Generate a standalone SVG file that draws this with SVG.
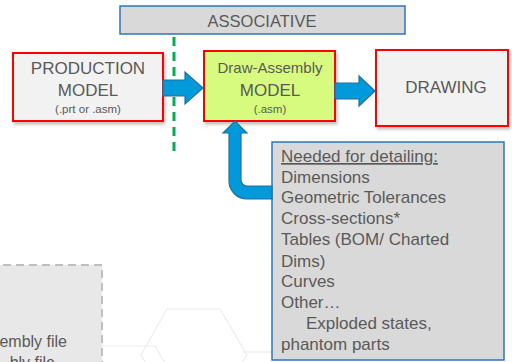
<svg xmlns="http://www.w3.org/2000/svg" width="512" height="362" viewBox="0 0 512 362">
<defs>
<style>
.t{font-family:"Liberation Sans",Arial,sans-serif;fill:#595959}
.red{stroke:#ff0000;stroke-width:2}
.blu{fill:#d9d9d9;stroke:#2e75b6;stroke-width:1.5}
.arr{fill:#0099d9;stroke:#23709f;stroke-width:1.2;stroke-linejoin:miter}
.hex{fill:none;stroke:#ececec;stroke-width:1.2}
</style>
<filter id="sh" x="-10%" y="-10%" width="130%" height="140%">
<feDropShadow dx="1.5" dy="2.5" stdDeviation="1.5" flood-color="#000" flood-opacity="0.25"/>
</filter>
</defs>
<rect width="512" height="362" fill="#ffffff"/>
<g id="background">
<polygon class="hex" points="167,309 220,309 247,355 220,401 167,401 141,355"/>
<polyline class="hex" points="102,346 155,346 170,372"/>
<polyline class="hex" points="243,352 272,352"/>
</g>
<g id="side-box">
<rect x="-10" y="265" width="112" height="120" fill="#e8e8e8" stroke="#bfbfbf" stroke-width="2" stroke-dasharray="8,5"/>
<text class="t" x="67" y="347" font-size="16" text-anchor="end">embly file</text>
<text class="t" x="55" y="368" font-size="16" text-anchor="end">bly file</text>
</g>
<g id="associative">
<rect class="blu" x="120" y="6" width="285" height="28"/>
<text class="t" x="262" y="27" font-size="16.5" text-anchor="middle">ASSOCIATIVE</text>
</g>
<g id="production">
<rect class="red" x="13" y="53" width="150" height="68" fill="#f2f2f2" filter="url(#sh)"/>
<text class="t" x="88" y="74" font-size="17" text-anchor="middle">PRODUCTION</text>
<text class="t" x="88" y="96" font-size="17" text-anchor="middle">MODEL</text>
<text class="t" x="88" y="113" font-size="11.5" text-anchor="middle">(.prt or .asm)</text>
</g>
<g id="draw-assembly">
<rect class="red" x="204" y="51" width="131" height="70" fill="#d6fb7e" filter="url(#sh)"/>
<text class="t" x="270" y="73" font-size="15" text-anchor="middle">Draw-Assembly</text>
<text class="t" x="270" y="96" font-size="17" text-anchor="middle">MODEL</text>
<text class="t" x="270" y="113" font-size="11.5" text-anchor="middle">(.asm)</text>
</g>
<g id="drawing">
<rect class="red" x="376" y="50" width="132" height="76" fill="#f2f2f2" filter="url(#sh)"/>
<text class="t" x="446" y="93" font-size="17" text-anchor="middle">DRAWING</text>
</g>
<g id="needed">
<rect class="blu" x="272" y="142" width="232" height="218"/>
<text class="t" font-size="17">
<tspan x="281" y="162" text-decoration="underline">Needed for detailing:</tspan>
<tspan x="281" y="183">Dimensions</tspan>
<tspan x="281" y="203">Geometric Tolerances</tspan>
<tspan x="281" y="224">Cross-sections*</tspan>
<tspan x="281" y="245">Tables (BOM/ Charted</tspan>
<tspan x="281" y="267">Dims)</tspan>
<tspan x="281" y="287">Curves</tspan>
<tspan x="281" y="308">Other…</tspan>
<tspan x="306" y="329">Exploded states,</tspan>
<tspan x="281" y="350">phantom parts</tspan>
</text>
</g>
<g id="connectors">
<line x1="174" y1="37" x2="174" y2="154" stroke="#00b050" stroke-width="3" stroke-dasharray="9,6"/>
<polygon class="arr" points="163,80 185,80 185,72 203,88 185,104 185,96 163,96"/>
<polygon class="arr" points="335,83 359,83 359,76 375,91 359,106 359,99 335,99"/>
<path class="arr" d="M272,199 L247,199 A18,18 0 0 1 229,181 L229,133 L223,133 L235,121 L247,133 L241,133 L241,180 A6,6 0 0 0 247,186 L272,186 Z"/>
</g>
</svg>
